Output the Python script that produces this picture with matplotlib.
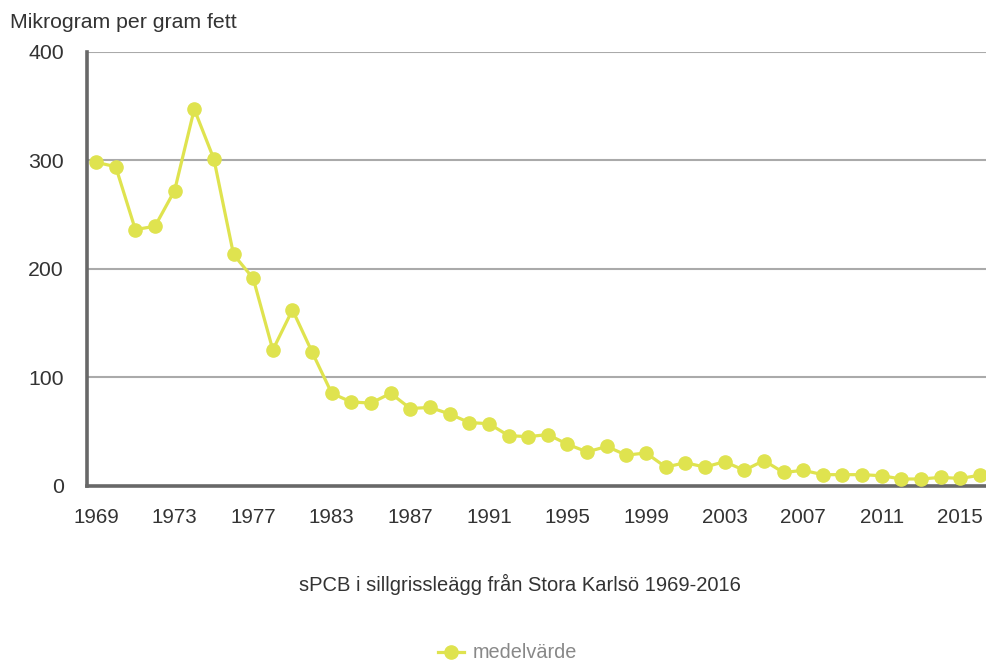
import numpy as np
import matplotlib
matplotlib.use('Agg')
import matplotlib.pyplot as plt

plt.rcParams['font.family'] = ['Liberation Sans', 'DejaVu Sans']

# sampled years (categorical axis, some years missing around 1980)
years = [1969, 1970, 1971, 1972, 1973, 1974, 1975, 1976, 1977, 1978, 1979, 1980,
         1983, 1984, 1985, 1986, 1987, 1988, 1989, 1990, 1991, 1992, 1993, 1994,
         1995, 1996, 1997, 1998, 1999, 2000, 2001, 2002, 2003, 2004, 2005, 2006,
         2007, 2008, 2009, 2010, 2011, 2012, 2013, 2014, 2015, 2016]
medel = [298, 294, 236, 239, 272, 347, 301, 213, 191, 125, 162, 123,
         85, 77, 76, 85, 71, 72, 66, 58, 57, 46, 45, 47,
         38, 31, 36, 28, 30, 17, 21, 17, 22, 14, 23, 12,
         14, 10, 10, 10, 9, 6, 6, 7.5, 6.5, 9.5]
yticks = [0, 100, 200, 300, 400]

col = '#dfe34f'
txt = '#333333'

fig = plt.figure(figsize=(9.87, 6.61), dpi=100)
ax = fig.add_axes([87.4 / 987, 0.2655, 901.2 / 987, 0.6563])

x = np.arange(len(years))
ax.plot(x, medel, color=col, lw=2.3, marker='o', markersize=9.5,
        clip_on=False, zorder=5, label='medelvärde')

ax.set_xlim(-0.44, len(years) - 1 + 0.44)
ax.set_ylim(0, 400)
ax.set_yticks(yticks)
ax.set_xticks(x[::4])
ax.set_xticklabels([str(y) for y in years[::4]])

ax.grid(axis='y', color='#aaaaaa', lw=1.5)
ax.set_axisbelow(True)
for s in ['top', 'right']:
    ax.spines[s].set_visible(False)
ax.spines['left'].set_color('#686868')
ax.spines['left'].set_linewidth(2.6)
ax.spines['bottom'].set_color('#686868')
ax.spines['bottom'].set_linewidth(2.6)
ax.tick_params(axis='both', length=0, labelcolor=txt)
ax.tick_params(axis='y', pad=17, labelsize=15.3)
ax.tick_params(axis='x', pad=16, labelsize=14.8)

fig.text(10 / 987, (661 - 28) / 661, 'Mikrogram per gram fett', fontsize=15.3,
         color=txt, ha='left', va='baseline')
fig.text(520 / 987, (661 - 591) / 661, 'sPCB i sillgrissleägg från Stora Karlsö 1969-2016',
         fontsize=14.5, color=txt, ha='center', va='baseline')

leg = ax.legend(loc='center left', bbox_to_anchor=(438 / 987, (661 - 653) / 661),
                bbox_transform=fig.transFigure, frameon=False, borderpad=0,
                borderaxespad=0, handlelength=1.3, handletextpad=0.45, fontsize=14.3)
for t in leg.get_texts():
    t.set_color('#888888')

fig.savefig('out.png', dpi=100)
